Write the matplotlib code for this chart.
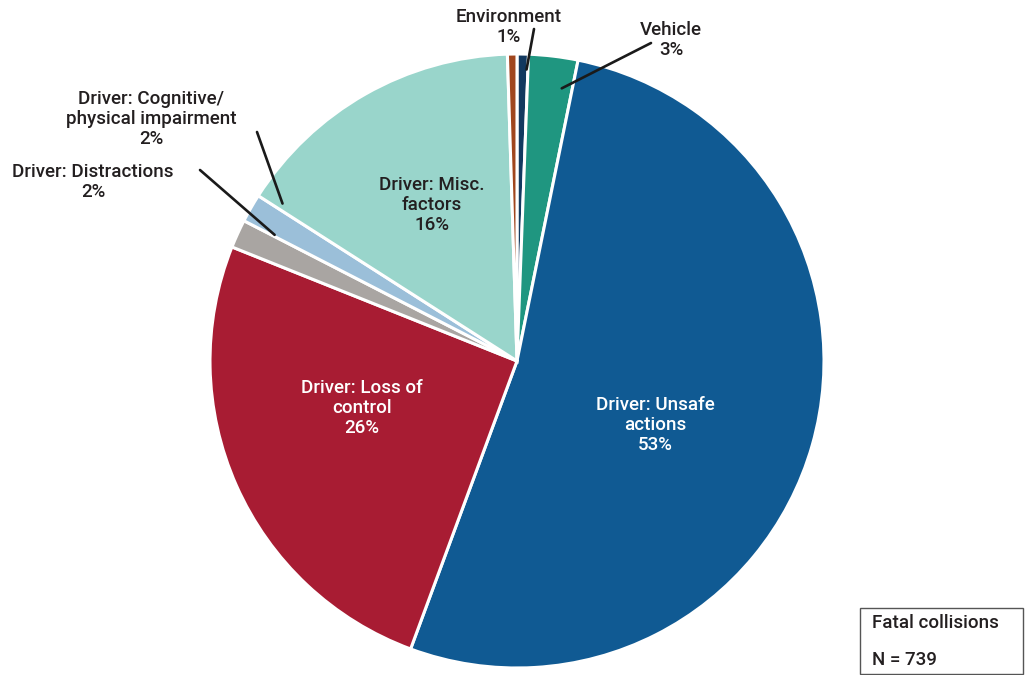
import matplotlib
matplotlib.use("Agg")
import matplotlib.pyplot as plt
from matplotlib.patches import Rectangle
import numpy as np

# Contributing factors in fatal collisions (share of collisions, %)
categories = [
    "Environment",
    "Vehicle",
    "Driver: Unsafe actions",
    "Driver: Loss of control",
    "Driver: Distractions",
    "Driver: Cognitive/physical impairment",
    "Driver: Misc. factors",
    "Other",
]
shares = [0.6, 2.6, 52.6, 25.5, 1.5, 1.5, 15.5, 0.5]
colors = ["#12395F", "#1F9680", "#105A93", "#A81C33",
          "#A9A5A2", "#9BBFD9", "#99D5CB", "#A0461E"]
label_lines = {
    "Environment": "Environment",
    "Vehicle": "Vehicle",
    "Driver: Unsafe actions": "Driver: Unsafe\nactions",
    "Driver: Loss of control": "Driver: Loss of\ncontrol",
    "Driver: Distractions": "Driver: Distractions",
    "Driver: Cognitive/physical impairment": "Driver: Cognitive/\nphysical impairment",
    "Driver: Misc. factors": "Driver: Misc.\nfactors",
}
n_collisions = 739

W, H = 1025, 675
fig = plt.figure(figsize=(W / 100, H / 100), dpi=100)
fig.patch.set_facecolor("white")

plt.rcParams["font.family"] = ["Roboto", "DejaVu Sans"]
TXT = "#231F20"
FS = 13.5


def fpx(x, y):
    """Pixel position (from top-left) to figure fraction."""
    return x / W, 1 - y / H


cx, cy, r = 517, 361, 307
ax = fig.add_axes([(cx - r) / W, (H - cy - r) / H, 2 * r / W, 2 * r / H])
wedges, _ = ax.pie(shares, colors=colors, startangle=90, counterclock=False,
                   radius=1.0, wedgeprops=dict(edgecolor="white", linewidth=2.2))
ax.set_xlim(-1, 1)
ax.set_ylim(-1, 1)
ax.set_aspect("equal")
ax.axis("off")


def pct(i):
    return f"{shares[i]:.0f}%"


# Labels inside the large wedges
inside = [
    (2, (655, 425), "white"),
    (3, (362, 408), "white"),
    (6, (432, 205), TXT),
]
for i, (x, y), col in inside:
    fig.text(*fpx(x, y), label_lines[categories[i]] + "\n" + pct(i),
             ha="center", va="center", fontsize=FS, fontweight="medium",
             color=col, linespacing=1.12)

# Outside labels with leader lines to the small wedges
outside = [
    # index, text centre, leader start, radial position of leader end, angle offset
    (0, (509, 27), (534, 29), 0.95, -0.8),
    (1, (671, 40), (651, 43), 0.90, -2.5),
    (5, (151, 119), (257, 132), 0.92, -4.0),
    (4, (93, 182), (200, 170), 0.89, -3.0),
]
for i, (tx, ty), (lx, ly), rr, dth in outside:
    fig.text(*fpx(tx, ty), label_lines[categories[i]] + "\n" + pct(i),
             ha="center", va="center", fontsize=FS, fontweight="medium",
             color=TXT, linespacing=1.12)
    w = wedges[i]
    mid = np.deg2rad((w.theta1 + w.theta2) / 2 + dth)
    ax.annotate("", xy=(rr * np.cos(mid), rr * np.sin(mid)), xycoords="data",
                xytext=fpx(lx, ly), textcoords="figure fraction",
                arrowprops=dict(arrowstyle="-", color="#1A1A1A", lw=1.9,
                                shrinkA=0, shrinkB=0))

# Sample size box
x0, y0 = fpx(860, 674)
x1, y1 = fpx(1023, 608)
fig.patches.append(Rectangle((x0, y0), x1 - x0, y1 - y0, transform=fig.transFigure,
                             fill=False, edgecolor="#555555", linewidth=1.0))
fig.text(*fpx(872, 623), "Fatal collisions", ha="left", va="center",
         fontsize=FS, fontweight="medium", color=TXT)
fig.text(*fpx(872, 660), f"N = {n_collisions}", ha="left", va="center",
         fontsize=FS, fontweight="medium", color=TXT)

fig.savefig("out.png", dpi=100, facecolor="white")
